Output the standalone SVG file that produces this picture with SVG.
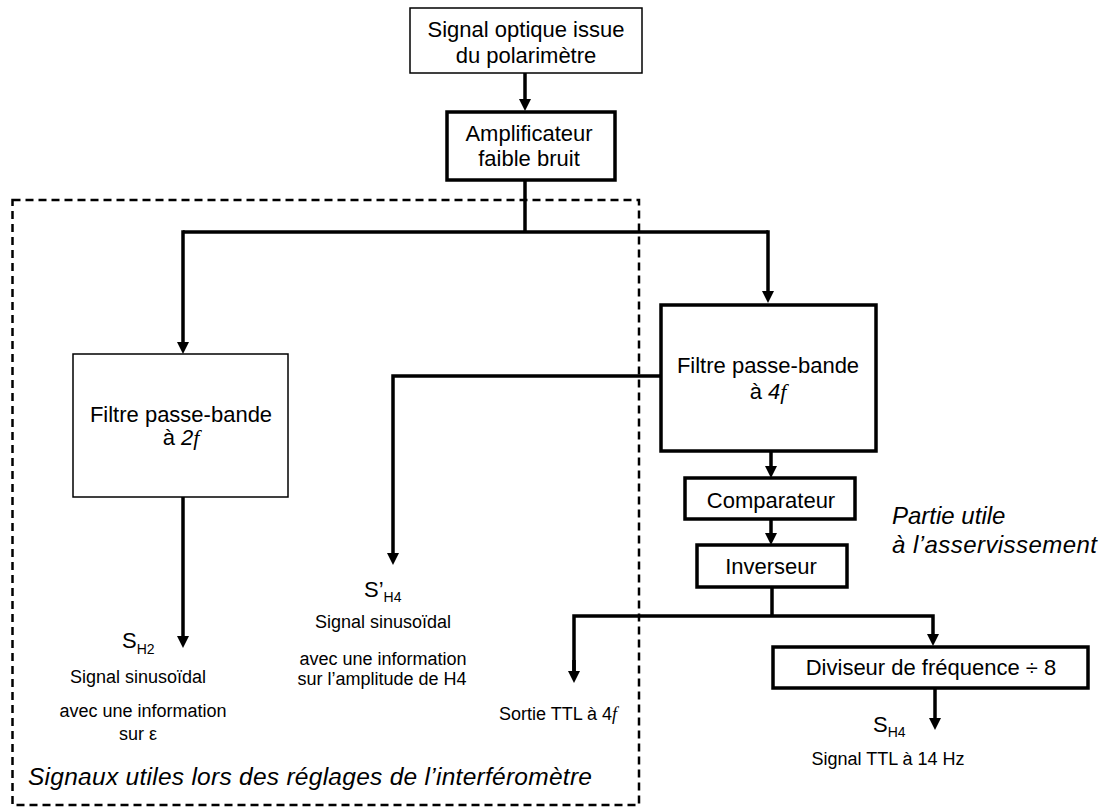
<svg xmlns="http://www.w3.org/2000/svg" width="1103" height="809" viewBox="0 0 1103 809">
<style>
text{font-family:"Liberation Sans",Arial,sans-serif;fill:#000}
.m{font-size:22px;text-anchor:middle}
.s{font-size:18px;text-anchor:middle}
.it{font-style:italic}
.ff{font-family:"Liberation Serif","Times New Roman",serif;font-style:italic}
.thin{fill:#fff;stroke:#000;stroke-width:1.5}
.thick{fill:#fff;stroke:#000;stroke-width:3.5}
.c{fill:none;stroke:#000;stroke-width:3.5;stroke-linejoin:miter}
.dash{fill:none;stroke:#000;stroke-width:2.5;stroke-dasharray:8 5}
</style>
<defs>
<marker id="ah" viewBox="0 0 12 12" refX="1" refY="6" markerWidth="12" markerHeight="12" markerUnits="userSpaceOnUse" orient="auto">
<path d="M0,0 L12,6 L0,12 z" fill="#000"/>
</marker>
</defs>
<rect width="1103" height="809" fill="#fff"/>

<g id="zone-reglages">
<rect class="dash" x="12.5" y="200" width="626.5" height="605"/>
<text class="it" x="28" y="785" font-size="24.5" textLength="564" lengthAdjust="spacing">Signaux utiles lors des réglages de l’interféromètre</text>
</g>

<g id="connectors">
<line class="c" x1="525" y1="73" x2="525" y2="100" marker-end="url(#ah)"/>
<polyline class="c" points="525,180 525,232"/>
<polyline class="c" points="183,232 768,232"/>
<polyline class="c" points="183,230.25 183,343" marker-end="url(#ah)"/>
<polyline class="c" points="768,230.25 768,292" marker-end="url(#ah)"/>
<line class="c" x1="183" y1="497" x2="183" y2="637" marker-end="url(#ah)"/>
<polyline class="c" points="661,376 393,376 393,554" marker-end="url(#ah)"/>
<line class="c" x1="771" y1="451" x2="771" y2="467" marker-end="url(#ah)"/>
<line class="c" x1="771" y1="519" x2="771" y2="534" marker-end="url(#ah)"/>
<polyline class="c" points="772,587 772,616"/>
<polyline class="c" points="574,672 574,616 933,616 933,635" marker-end="url(#ah)"/>
<line class="c" x1="574" y1="660" x2="574" y2="672" marker-end="url(#ah)"/>
<line class="c" x1="935" y1="688" x2="935" y2="719" marker-end="url(#ah)"/>
</g>

<g id="n-source">
<rect class="thin" x="410" y="8" width="232" height="65"/>
<text class="m" x="526" y="37">Signal optique issue</text>
<text class="m" x="526" y="63">du polarimètre</text>
</g>

<g id="n-ampli">
<rect class="thick" x="447" y="112" width="168" height="68"/>
<text class="m" x="529" y="141">Amplificateur</text>
<text class="m" x="529" y="166">faible bruit</text>
</g>

<g id="n-filtre2f">
<rect class="thin" x="73" y="354" width="215" height="143"/>
<text class="m" x="181" y="422">Filtre passe-bande</text>
<text class="m" x="181" y="445">à <tspan class="it">2</tspan><tspan class="ff">f</tspan></text>
</g>

<g id="n-filtre4f">
<rect class="thick" x="661" y="305" width="215" height="146"/>
<text class="m" x="768" y="373">Filtre passe-bande</text>
<text class="m" x="768" y="399">à <tspan class="it">4</tspan><tspan class="ff">f</tspan></text>
</g>

<g id="n-comparateur">
<rect class="thick" x="685" y="478" width="170" height="41"/>
<text class="m" x="771" y="508">Comparateur</text>
</g>

<g id="n-inverseur">
<rect class="thick" x="697" y="545" width="150" height="42"/>
<text class="m" x="771" y="574">Inverseur</text>
</g>

<g id="n-diviseur">
<rect class="thick" x="773" y="647" width="315" height="41"/>
<text class="m" x="931" y="675">Diviseur de fréquence ÷ 8</text>
</g>

<g id="out-sh2">
<text x="122" y="648" font-size="22">S<tspan font-size="14" dy="6">H2</tspan></text>
<text class="s" x="138" y="683">Signal sinusoïdal</text>
<text class="s" x="143" y="717">avec une information</text>
<text class="s" x="138" y="740">sur ε</text>
</g>

<g id="out-sph4">
<text x="364" y="597" font-size="22">S’<tspan font-size="14" dy="5">H4</tspan></text>
<text class="s" x="383" y="628">Signal sinusoïdal</text>
<text class="s" x="383" y="665">avec une information</text>
<text class="s" x="382" y="685">sur l’amplitude de H4</text>
</g>

<g id="out-ttl4f">
<text x="499" y="720" font-size="18">Sortie TTL à 4<tspan class="ff">f</tspan></text>
</g>

<g id="out-sh4">
<text x="873" y="732" font-size="22">S<tspan font-size="14" dy="5">H4</tspan></text>
<text class="s" x="888" y="765">Signal TTL à 14 Hz</text>
</g>

<g id="label-asserv">
<text class="it" x="892" y="524" font-size="24">Partie utile</text>
<text class="it" x="892" y="553" font-size="24" textLength="205" lengthAdjust="spacing">à l’asservissement</text>
</g>
</svg>
